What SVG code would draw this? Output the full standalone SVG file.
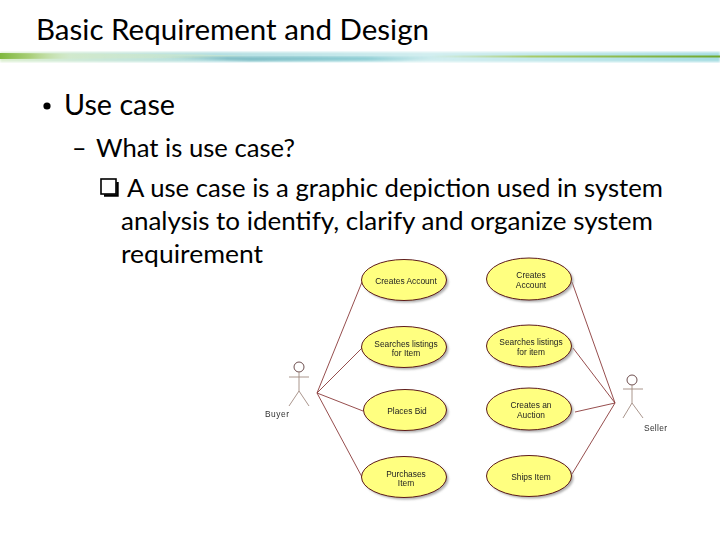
<svg xmlns="http://www.w3.org/2000/svg" width="720" height="540" viewBox="0 0 720 540">
<style>
.h{font-family:"Lato","Carlito","Liberation Sans",sans-serif;fill:#000}
.u{font-family:"Liberation Sans",Arial,sans-serif;font-size:8.4px;fill:#222;text-anchor:middle}
.a{font-family:"Liberation Sans",Arial,sans-serif;font-size:8.4px;fill:#333}
.uc{fill:#ffff80;stroke:#5c1a1a;stroke-width:1}
.sh{fill:#999;fill-opacity:.8}
.c{stroke:#8a3a3a;stroke-width:.9;fill:none}
.b{stroke:#a08a80;stroke-width:.9;fill:none}
</style>
<defs>
<linearGradient id="g1" x1="0" x2="1" y1="0" y2="0">
<stop offset="0" stop-color="#7fb83e"/><stop offset=".12" stop-color="#a9cf78"/><stop offset=".28" stop-color="#d4e8c0" stop-opacity=".4"/>
</linearGradient>
<linearGradient id="g3" x1="0" x2="1" y1="0" y2="0">
<stop offset="0" stop-color="#8cc4c4" stop-opacity="0"/><stop offset=".25" stop-color="#7fbcc4"/><stop offset=".7" stop-color="#8ccdd4"/><stop offset="1" stop-color="#b8e2e4" stop-opacity="0"/>
</linearGradient>
<linearGradient id="g4" x1="0" x2="1" y1="0" y2="0">
<stop offset="0" stop-color="#c4dc9a" stop-opacity="0"/><stop offset=".35" stop-color="#a8cc6a"/><stop offset="1" stop-color="#6fa82e"/>
</linearGradient>
<linearGradient id="g2" x1="0" x2="1" y1="0" y2="0">
<stop offset="0" stop-color="#dcefd0"/><stop offset=".3" stop-color="#b4dfe2"/><stop offset=".6" stop-color="#d2eef0"/><stop offset="1" stop-color="#a6dde2"/>
</linearGradient>
<filter id="s" x="-5%" y="-5%" width="110%" height="110%"><feGaussianBlur stdDeviation=".8"/></filter>
<filter id="d" x="-5%" y="-5%" width="110%" height="110%"><feGaussianBlur stdDeviation=".45"/></filter>
</defs>
<rect width="720" height="540" fill="#fff"/>
<g id="header">
<text class="h" x="36" y="40" font-size="29" textLength="393" lengthAdjust="spacingAndGlyphs">Basic Requirement and Design</text>
<rect x="0" y="52" width="720" height="10" fill="url(#g2)" filter="url(#s)"/>
<path d="M0 53L200 54.5L250 56L200 58L0 59Z" fill="url(#g1)"/>
<path d="M150 57L300 56.5L460 57L400 60.5L250 61Z" fill="url(#g3)" filter="url(#s)"/>
<rect x="430" y="55.5" width="290" height="2" fill="url(#g4)"/>
</g>
<g id="body">
<circle cx="47" cy="106" r="3.6" fill="#000"/>
<text class="h" x="64" y="115" font-size="28" textLength="111" lengthAdjust="spacingAndGlyphs">Use case</text>
<text class="h" x="72" y="157" font-size="25">–</text>
<text class="h" x="96" y="157" font-size="25" textLength="199" lengthAdjust="spacingAndGlyphs">What is use case?</text>
<rect x="101" y="179" width="15" height="15" fill="#fff" stroke="#000" stroke-width="1.6"/>
<path d="M104 195.5H117.5V182" fill="none" stroke="#000" stroke-width="2.4"/>
<text class="h" x="127" y="197" font-size="25" textLength="536" lengthAdjust="spacingAndGlyphs">A use case is a graphic depiction used in system</text>
<text class="h" x="121" y="230" font-size="25" textLength="532" lengthAdjust="spacingAndGlyphs">analysis to identify, clarify and organize system</text>
<text class="h" x="121" y="263" font-size="25" textLength="142" lengthAdjust="spacingAndGlyphs">requirement</text>
</g>
<g filter="url(#d)">
<g id="connectors">
<line class="c" x1="317" y1="393" x2="362" y2="282"/>
<line class="c" x1="317" y1="393" x2="362" y2="348"/>
<line class="c" x1="317" y1="393" x2="363" y2="411"/>
<line class="c" x1="317" y1="393" x2="362" y2="477"/>
<line class="c" x1="615" y1="403" x2="572" y2="282"/>
<line class="c" x1="615" y1="403" x2="573" y2="348"/>
<line class="c" x1="615" y1="403" x2="575" y2="412"/>
<line class="c" x1="615" y1="403" x2="572" y2="474"/>
</g>
<g id="buyer">
<circle class="b" cx="299" cy="367" r="5" style="stroke:#5c3a3a"/>
<path class="b" d="M289 377H309M299 372V391L289 406M299 391L309 406"/>
<text class="a" x="265" y="417" textLength="24">Buyer</text>
</g>
<g id="seller">
<circle class="b" cx="632" cy="380" r="5" style="stroke:#5c3a3a"/>
<path class="b" d="M623 389H643M632 385V403L623 418M632 403L643 418"/>
<text class="a" x="644" y="431" textLength="23" fill="#222">Seller</text>
</g>
<g id="uc1"><ellipse class="sh" cx="406" cy="282" rx="42.5" ry="20.5" filter="url(#s)"/><ellipse class="uc" cx="404" cy="280" rx="42.5" ry="20.5"/><text class="u" x="406" y="284">Creates Account</text></g>
<g id="uc2"><ellipse class="sh" cx="406" cy="349" rx="42.5" ry="20.5" filter="url(#s)"/><ellipse class="uc" cx="404" cy="347" rx="42.5" ry="20.5"/><text class="u" x="406" y="347">Searches listings</text><text class="u" x="406" y="356">for Item</text></g>
<g id="uc3"><ellipse class="sh" cx="407" cy="412" rx="41.5" ry="20.5" filter="url(#s)"/><ellipse class="uc" cx="405" cy="410" rx="41.5" ry="20.5"/><text class="u" x="407" y="414">Places Bid</text></g>
<g id="uc4"><ellipse class="sh" cx="406" cy="479" rx="42.5" ry="20.5" filter="url(#s)"/><ellipse class="uc" cx="404" cy="477" rx="42.5" ry="20.5"/><text class="u" x="406" y="477">Purchases</text><text class="u" x="406" y="486">Item</text></g>
<g id="uc5"><ellipse class="sh" cx="531" cy="281" rx="42.5" ry="21" filter="url(#s)"/><ellipse class="uc" cx="529" cy="279" rx="42.5" ry="21"/><text class="u" x="531" y="278">Creates</text><text class="u" x="531" y="288">Account</text></g>
<g id="uc6"><ellipse class="sh" cx="531" cy="348" rx="42.5" ry="21" filter="url(#s)"/><ellipse class="uc" cx="529" cy="346" rx="42.5" ry="21"/><text class="u" x="531" y="345">Searches listings</text><text class="u" x="531" y="355">for item</text></g>
<g id="uc7"><ellipse class="sh" cx="531" cy="411" rx="42.5" ry="21" filter="url(#s)"/><ellipse class="uc" cx="529" cy="409" rx="42.5" ry="21"/><text class="u" x="531" y="408">Creates an</text><text class="u" x="531" y="418">Auction</text></g>
<g id="uc8"><ellipse class="sh" cx="531" cy="478" rx="42.5" ry="20.5" filter="url(#s)"/><ellipse class="uc" cx="529" cy="476" rx="42.5" ry="20.5"/><text class="u" x="531" y="480">Ships Item</text></g>
</g>
</svg>
